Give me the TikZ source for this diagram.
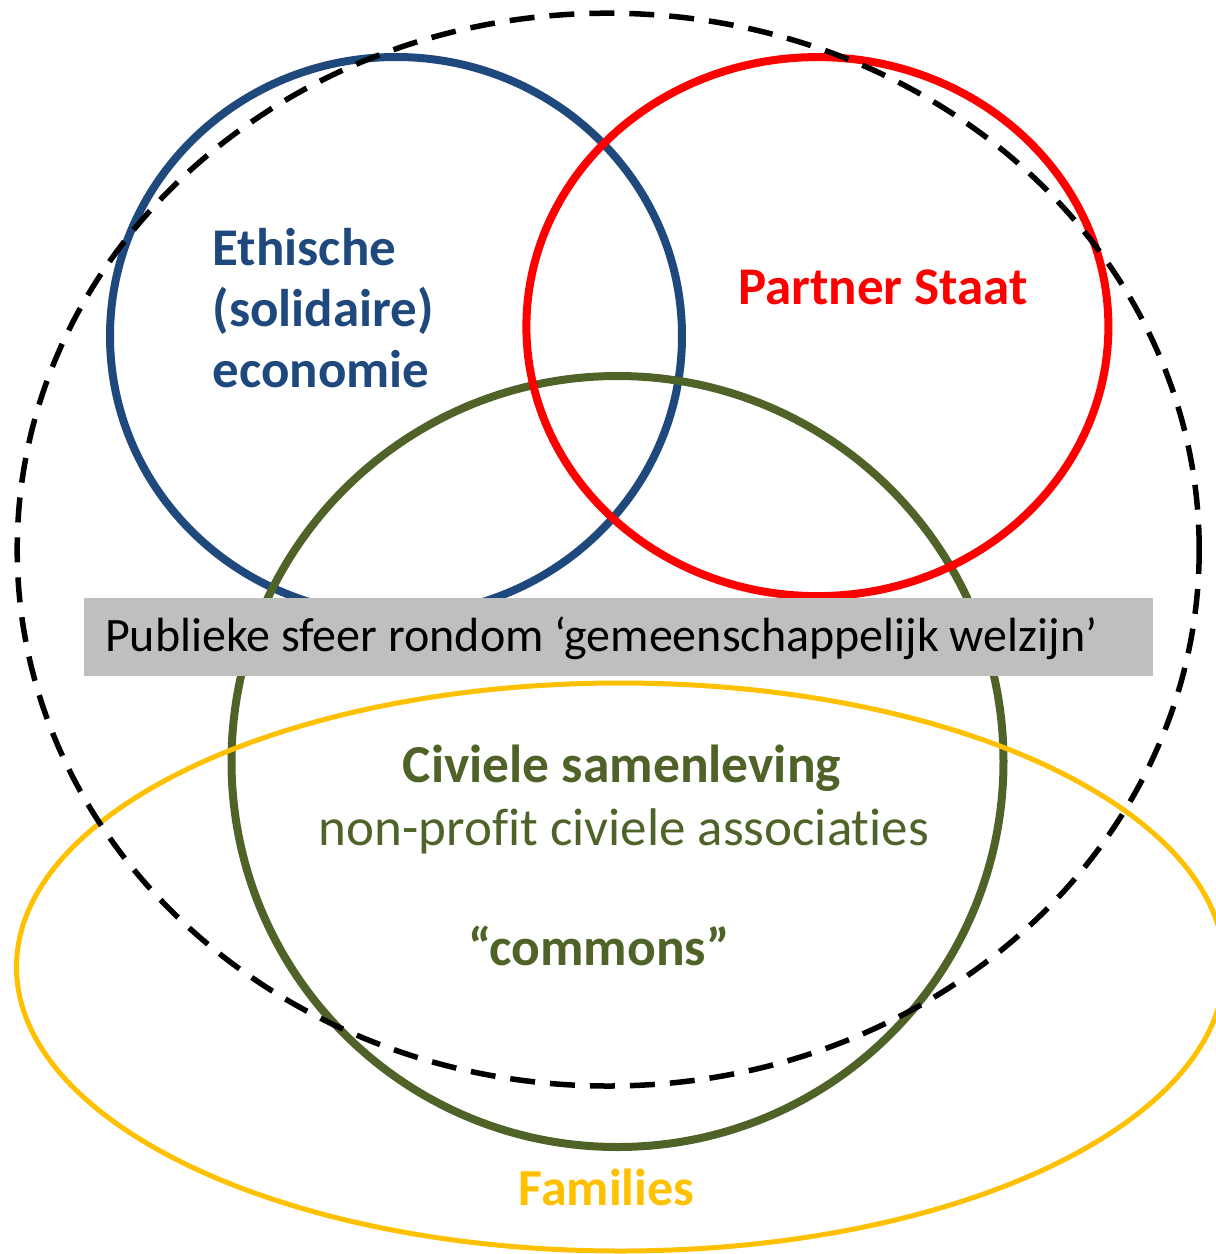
\documentclass[tikz,border=0pt]{standalone}
\usepackage{fontspec}
\setmainfont{Carlito}[Ligatures=NoCommon]
\definecolor{ecoblue}{HTML}{1F497D}
\definecolor{staatred}{HTML}{FF0000}
\definecolor{civgreen}{HTML}{4F6228}
\definecolor{famyellow}{HTML}{FFC000}
\definecolor{sfeergray}{HTML}{BFBFBF}
\tikzset{
  ring/.style={line width=8pt},
  lbl/.style={inner sep=0pt, outer sep=0pt},
}
\begin{document}
\begin{tikzpicture}[x=1pt,y=-1pt]
\useasboundingbox (0,0) rectangle (1216,1254);
% blue circle
\draw[ring, ecoblue] (396,336) ellipse [x radius=286pt, y radius=279pt];
% green circle
\draw[ring, civgreen] (617.5,761.5) ellipse [x radius=386pt, y radius=385.5pt];
% red circle
\draw[ring, staatred] (817.4,326.6) ellipse [x radius=291pt, y radius=269.5pt];
% gray band
\node[fill=sfeergray, inner sep=0pt, minimum width=1069pt, minimum height=77.5pt, anchor=north west] (band) at (83.3,598) {};
\node[lbl, anchor=base west, font=\fontsize{48}{56}\selectfont] (publiek) at (105,651.7) {Publieke sfeer rondom ‘gemeenschappelijk welzijn’};
% yellow ellipse
\draw[line width=5pt, famyellow] (620.5,967) ellipse [x radius=604pt, y radius=284pt];
% dashed ellipse
\draw[line width=5.5pt, black, dash pattern=on 25pt off 15pt] (608.2,549.6) ellipse [x radius=591pt, y radius=536.4pt];
% labels
\node[lbl, anchor=base west, align=left, text=ecoblue, font=\fontsize{53}{61}\selectfont\bfseries] (eco) at (212.7,387) {Ethische\\(solidaire)\\economie};
\node[lbl, anchor=base, text=staatred, font=\fontsize{53}{62}\selectfont\bfseries] (staat) at (883,304) {Partner Staat};
\node[lbl, anchor=base, text=civgreen, font=\fontsize{53.5}{62}\selectfont\bfseries] (civ) at (622,782.7) {Civiele samenleving};
\node[lbl, anchor=base, text=civgreen, font=\fontsize{53}{62}\selectfont] (npo) at (624,845) {non-profit civiele associaties};
\node[lbl, anchor=base, text=civgreen, font=\fontsize{53.5}{62}\selectfont\bfseries] (commons) at (599,965) {“commons”};
\node[lbl, anchor=base, text=famyellow, font=\fontsize{52}{60}\selectfont\bfseries] (fam) at (606.5,1205) {Families};
\end{tikzpicture}
\end{document}
